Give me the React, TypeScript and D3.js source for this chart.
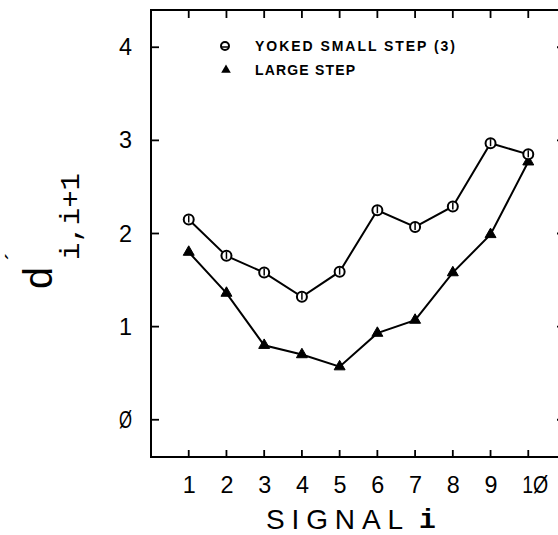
import React from "react";
import * as d3 from "d3";

// Signal index i (pairs i, i+1)
const signals = [1, 2, 3, 4, 5, 6, 7, 8, 9, 10];
// d' for adjacent signal pairs, yoked small-step condition
const yokedSmallStep = [2.15, 1.76, 1.58, 1.32, 1.59, 2.25, 2.07, 2.29, 2.97, 2.85];
// d' for adjacent signal pairs, large-step condition
const largeStep = [1.8, 1.36, 0.8, 0.7, 0.57, 0.93, 1.07, 1.58, 1.99, 2.77];

const yTicks = [0, 1, 2, 3, 4];
const yTickLabels = ["Ø", "1", "2", "3", "4"];
const xTickLabels = ["1", "2", "3", "4", "5", "6", "7", "8", "9", "1Ø"];

const legendLabels = ["YOKED SMALL STEP (3)", "LARGE STEP"];

const W = 558;
const H = 535;
const left = 151;
const right = 566;
const top = 10;
const bottom = 457;

export default function App() {
  const x = d3.scaleLinear().domain([0, 11]).range([left, right]);
  const y = d3.scaleLinear().domain([-0.4, 4.4]).range([bottom, top]);

  const line = d3
    .line<number>()
    .x((_, i) => x(signals[i]))
    .y((d) => y(d));

  const tri = d3.symbol().type(d3.symbolTriangle).size(52)() as string;
  const triSmall = d3.symbol().type(d3.symbolTriangle).size(40)() as string;

  const numFont = "'Liberation Sans', Arial, sans-serif";
  const monoFont = "'Liberation Mono', 'Courier New', monospace";

  // plotter-style labels: every glyph takes one fixed cell width
  const cell = 13;

  return (
    <svg
      width={W}
      height={H}
      style={{ position: "absolute", left: 0, top: 0, background: "#fff" }}
    >
      {/* frame */}
      <rect
        x={left}
        y={top}
        width={right - left}
        height={bottom - top}
        fill="none"
        stroke="#000"
        strokeWidth={2}
      />

      {/* x ticks on bottom and top */}
      {signals.map((s) => (
        <g key={"xt" + s}>
          <line x1={x(s)} x2={x(s)} y1={bottom} y2={bottom - 7} stroke="#000" strokeWidth={1.8} />
          <line x1={x(s)} x2={x(s)} y1={top} y2={top + 8} stroke="#000" strokeWidth={1.8} />
        </g>
      ))}

      {/* y ticks on left and right */}
      {yTicks.map((t) => (
        <g key={"yt" + t}>
          <line x1={left} x2={left + 8} y1={y(t)} y2={y(t)} stroke="#000" strokeWidth={1.8} />
          <line x1={right} x2={right - 9} y1={y(t)} y2={y(t)} stroke="#000" strokeWidth={1.8} />
        </g>
      ))}

      {/* y tick labels */}
      {yTicks.map((t, i) => (
        <text
          key={"yl" + t}
          x={132 - cell * yTickLabels[i].length}
          y={y(t) + 8}
          textAnchor="start"
          fontFamily={numFont}
          fontSize={23}
          textLength={cell * yTickLabels[i].length}
          lengthAdjust="spacingAndGlyphs"
          fill="#000"
        >
          {yTickLabels[i]}
        </text>
      ))}

      {/* x tick labels */}
      {signals.map((s, i) => (
        <text
          key={"xl" + s}
          x={x(s) - 6}
          y={493}
          textAnchor="start"
          fontFamily={numFont}
          fontSize={23}
          textLength={cell * xTickLabels[i].length}
          lengthAdjust="spacingAndGlyphs"
          fill="#000"
        >
          {xTickLabels[i]}
        </text>
      ))}

      {/* x axis title */}
      <text
        x={266}
        y={529}
        fontFamily={numFont}
        fontSize={28}
        textLength={137}
        lengthAdjust="spacing"
        fill="#000"
      >
        SIGNAL
      </text>
      <text x={419} y={528} fontFamily={monoFont} fontSize={28} fontWeight="bold" fill="#000">
        i
      </text>

      {/* y axis title: d' subscript i,i+1 */}
      <g transform="translate(52,290) rotate(-90)">
        <text x={0} y={0} fontFamily={monoFont} fontSize={40} fill="#000">
          d
        </text>
        <text x={26} y={-30} fontFamily={monoFont} fontSize={24} fill="#000">
          ´
        </text>
        <text
          x={30}
          y={27}
          fontFamily={monoFont}
          fontSize={28}
          textLength={87}
          lengthAdjust="spacingAndGlyphs"
          fill="#000"
        >
          i,i+1
        </text>
      </g>

      {/* series lines */}
      <path d={line(largeStep) || ""} fill="none" stroke="#000" strokeWidth={2} />
      <path d={line(yokedSmallStep) || ""} fill="none" stroke="#000" strokeWidth={2} />

      {/* large-step markers */}
      {largeStep.map((v, i) => (
        <path
          key={"tri" + i}
          d={tri}
          transform={`translate(${x(signals[i])},${y(v)})`}
          fill="#000"
          stroke="#000"
          strokeWidth={1}
        />
      ))}

      {/* yoked small-step markers */}
      {yokedSmallStep.map((v, i) => (
        <g key={"cir" + i} transform={`translate(${x(signals[i])},${y(v)})`}>
          <circle r={5} fill="#fff" stroke="#000" strokeWidth={2} />
          <line x1={0} x2={0} y1={-4} y2={3} stroke="#000" strokeWidth={1.5} />
        </g>
      ))}

      {/* legend */}
      <g transform="translate(225,46)">
        <circle r={4} fill="#fff" stroke="#000" strokeWidth={2} />
        <line x1={-3} x2={3} y1={1} y2={1} stroke="#000" strokeWidth={1.5} />
      </g>
      <text
        x={255}
        y={51}
        fontFamily={numFont}
        fontSize={14}
        fontWeight="bold"
        textLength={200}
        lengthAdjust="spacing"
        fill="#000"
      >
        {legendLabels[0]}
      </text>
      <path d={triSmall} transform="translate(226,70)" fill="#000" />
      <text
        x={255}
        y={75}
        fontFamily={numFont}
        fontSize={14}
        fontWeight="bold"
        textLength={100}
        lengthAdjust="spacing"
        fill="#000"
      >
        {legendLabels[1]}
      </text>
    </svg>
  );
}
